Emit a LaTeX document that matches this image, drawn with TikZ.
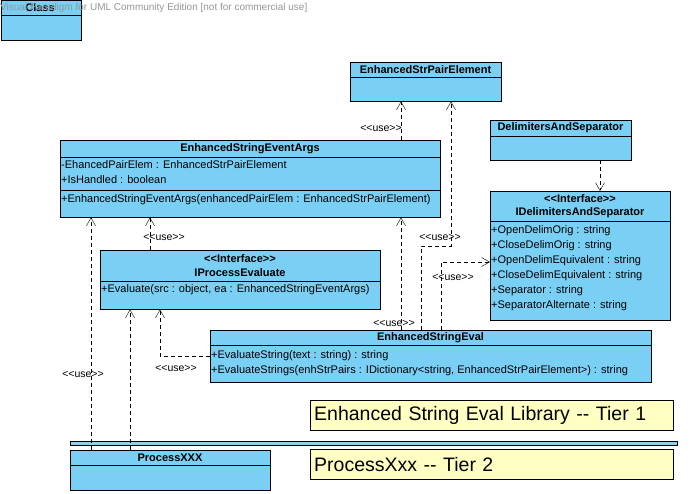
\documentclass[tikz, border = 0pt]{standalone}
\usepackage{fontspec}
\setmainfont{Liberation Sans}
\usetikzlibrary{arrows.meta}

\definecolor{umlblue}{RGB}{122, 207, 245}
\definecolor{noteyellow}{RGB}{255, 255, 196}
\definecolor{barblue}{RGB}{150, 205, 235}
\definecolor{markgray}{RGB}{150, 150, 150}

\newcommand{\stereo}[1]{<\kern0pt<#1>\kern0pt>}

\begin{document}
\begin{tikzpicture}[x = 1pt, y = -1pt, > = {Straight Barb[length = 8pt, width = 9pt]},
	umlbox/.style = {draw, fill = umlblue, anchor = north west, inner sep = 0pt},
	title/.style = {font = \fontsize{11}{12}\selectfont\bfseries, inner sep = 0pt},
	member/.style = {font = \fontsize{11}{12}\selectfont, anchor = west, inner sep = 0pt},
	uselabel/.style = {font = \fontsize{10.5}{11}\selectfont, inner sep = 0pt},
	dep/.style = {->, dash pattern = on 4pt off 3pt},
	note/.style = {draw, fill = noteyellow, anchor = north west, minimum height = 30pt,
		text width = 355pt, inner xsep = 4pt, align = left, font = \fontsize{19.5}{22}\selectfont}]

	\useasboundingbox (0, 0) rectangle (692, 494);

	% Class boxes

	\node [umlbox, minimum width = 80pt, minimum height = 40pt] (cls) at (0.5, 0.5) {};
	\draw (0.5, 15) -- (80.5, 15);
	\node [title] (cls-t) at (40, 8) {Class};
	\node [font = \fontsize{10}{11}\selectfont, text = markgray, anchor = west, inner sep = 0pt] (mark) at (0, 8)
		{Visual Paradigm for UML Community Edition [not for commercial use]};

	\node [umlbox, minimum width = 151pt, minimum height = 39pt] (pair) at (350, 62) {};
	\draw (350, 77) -- (501, 77);
	\node [title] (pair-t) at (425.5, 69.5) {EnhancedStrPairElement};

	\node [umlbox, minimum width = 380pt, minimum height = 77pt] (args) at (60, 140) {};
	\draw (60, 157) -- (440, 157);
	\draw (60, 190) -- (440, 190);
	\node [title] (args-t) at (250, 148.5) {EnhancedStringEventArgs};
	\node [member] (args-a) at (61, 165) {-EhancedPairElem : EnhancedStrPairElement};
	\node [member] (args-b) at (61, 180) {+IsHandled : boolean};
	\node [member] (args-c) at (61, 200) {+EnhancedStringEventArgs(enhancedPairElem : EnhancedStrPairElement)};

	\node [umlbox, minimum width = 280pt, minimum height = 59pt] (iproc) at (100, 250) {};
	\draw (100, 281) -- (380, 281);
	\node [title] (iproc-s) at (240, 259) {\stereo{Interface}};
	\node [title] (iproc-t) at (240, 273) {IProcessEvaluate};
	\node [member] (iproc-a) at (101, 290) {+Evaluate(src : object, ea : EnhancedStringEventArgs)};

	\node [umlbox, minimum width = 141pt, minimum height = 40pt] (delim) at (490, 120) {};
	\draw (490, 136) -- (631, 136);
	\node [title] (delim-t) at (560.5, 128) {DelimitersAndSeparator};

	\node [umlbox, minimum width = 180pt, minimum height = 129pt] (idelim) at (490, 191) {};
	\draw (490, 221) -- (670, 221);
	\node [title] (idelim-s) at (580, 198.5) {\stereo{Interface}};
	\node [title] (idelim-t) at (580, 213) {IDelimitersAndSeparator};
	\foreach \txt [count = \i] in {+OpenDelimOrig : string, +CloseDelimOrig : string,
		+OpenDelimEquivalent : string, +CloseDelimEquivalent : string,
		+Separator : string, +SeparatorAlternate : string}
		\node [member] (idelim-\i) at (491, 216 + 15 * \i) {\txt};

	\node [umlbox, minimum width = 441pt, minimum height = 52pt] (eval) at (210, 330) {};
	\draw (210, 345) -- (651, 345);
	\node [title] (eval-t) at (430.5, 337.5) {EnhancedStringEval};
	\node [member] (eval-a) at (211, 356) {+EvaluateString(text : string) : string};
	\node [member] (eval-b) at (211, 371) {+EvaluateStrings(enhStrPairs : IDictionary<string, EnhancedStrPairElement>) : string};

	\node [umlbox, minimum width = 200pt, minimum height = 40pt] (proc) at (70, 450) {};
	\draw (70, 465) -- (270, 465);
	\node [title] (proc-t) at (170, 458) {ProcessXXX};

	% Tier notes and separator

	\node [note] (tier1) at (310, 400) {Enhanced String Eval Library -\kern0pt- Tier 1};
	\node [note] (tier2) at (310, 449) {ProcessXxx -\kern0pt- Tier 2};
	\draw [fill = barblue] (70, 441) rectangle (677, 445);

	% Dependencies

	\coordinate (l1) at (401, 0);
	\coordinate (l2) at (421, 0);
	\coordinate (b2) at (451, 246);
	\coordinate (b3) at (441, 262);
	\coordinate (l5) at (150, 0);
	\coordinate (l6) at (160, 0);
	\coordinate (l7) at (91, 0);
	\coordinate (l8) at (130, 0);
	\coordinate (l9) at (600, 0);

	\draw [dep] (args.north -| l1) -- (pair.south -| l1);
	\draw [dep] (eval.north -| l1) -- (args.south -| l1);
	\draw [dep] (eval.north -| l2) |- (b2) -- (pair.south -| b2);
	\draw [dep] (eval.north -| b3) |- (idelim.west |- b3);
	\draw [dep] (iproc.north -| l5) -- (args.south -| l5);
	\draw [dep] (eval.west) -| (iproc.south -| l6);
	\draw [dep] (proc.north -| l7) -- (args.south -| l7);
	\draw [dep] (proc.north -| l8) -- (iproc.south -| l8);
	\draw [dep] (delim.south -| l9) -- (idelim.north -| l9);

	% Labels

	\node [uselabel] (u1) at (381, 128) {\stereo{use}};
	\node [uselabel] (u2) at (394, 323) {\stereo{use}};
	\node [uselabel] (u3) at (440, 237) {\stereo{use}};
	\node [uselabel] (u4) at (453, 277) {\stereo{use}};
	\node [uselabel] (u5) at (164, 237) {\stereo{use}};
	\node [uselabel] (u6) at (176, 368) {\stereo{use}};
	\node [uselabel] (u7) at (83, 374) {\stereo{use}};

\end{tikzpicture}
\end{document}
